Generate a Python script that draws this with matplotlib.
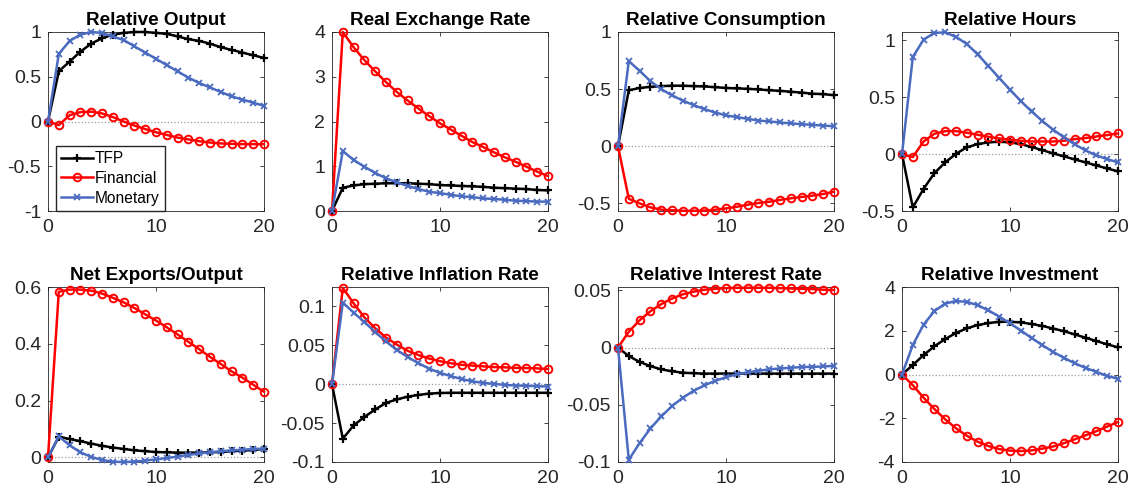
import matplotlib

matplotlib.use("Agg")
import matplotlib.pyplot as plt
import numpy as np

horizon = np.arange(21)

titles = ["Relative Output", "Real Exchange Rate", "Relative Consumption", "Relative Hours",
          "Net Exports/Output", "Relative Inflation Rate", "Relative Interest Rate", "Relative Investment"]

output_tfp = [0, 0.56, 0.67, 0.78, 0.87, 0.93, 0.97, 0.99, 1.0, 1.0, 0.99, 0.98, 0.95, 0.92, 0.90, 0.87, 0.83, 0.80, 0.77, 0.74, 0.71]
output_fin = [0, -0.04, 0.07, 0.105, 0.11, 0.09, 0.05, 0.0, -0.045, -0.085, -0.12, -0.15, -0.18, -0.20, -0.22, -0.235, -0.245, -0.25, -0.253, -0.253, -0.253]
output_mon = [0, 0.755, 0.90, 0.97, 1.0, 0.99, 0.95, 0.91, 0.84, 0.77, 0.70, 0.63, 0.56, 0.49, 0.43, 0.38, 0.33, 0.28, 0.245, 0.21, 0.175]

rer_tfp = [0, 0.52, 0.57, 0.60, 0.61, 0.62, 0.62, 0.62, 0.61, 0.60, 0.58, 0.57, 0.56, 0.55, 0.54, 0.52, 0.51, 0.50, 0.49, 0.47, 0.46]
rer_fin = [0, 4.0, 3.66, 3.37, 3.12, 2.88, 2.66, 2.47, 2.29, 2.12, 1.96, 1.82, 1.68, 1.54, 1.43, 1.31, 1.20, 1.10, 0.99, 0.88, 0.78]
rer_mon = [0, 1.34, 1.14, 0.99, 0.85, 0.73, 0.64, 0.56, 0.49, 0.43, 0.40, 0.36, 0.33, 0.31, 0.28, 0.27, 0.25, 0.23, 0.22, 0.21, 0.21]

cons_tfp = [0, 0.49, 0.51, 0.52, 0.526, 0.53, 0.53, 0.526, 0.523, 0.517, 0.51, 0.506, 0.503, 0.497, 0.49, 0.485, 0.477, 0.47, 0.46, 0.456, 0.447]
cons_fin = [0, -0.46, -0.50, -0.535, -0.555, -0.56, -0.565, -0.565, -0.563, -0.556, -0.544, -0.53, -0.512, -0.497, -0.486, -0.47, -0.456, -0.444, -0.433, -0.418, -0.398]
cons_mon = [0, 0.745, 0.66, 0.57, 0.50, 0.445, 0.40, 0.36, 0.325, 0.295, 0.27, 0.255, 0.24, 0.225, 0.217, 0.208, 0.20, 0.193, 0.187, 0.181, 0.175]

hours_tfp = [0, -0.469, -0.305, -0.167, -0.073, 0.003, 0.059, 0.088, 0.103, 0.109, 0.103, 0.088, 0.062, 0.035, 0.006, -0.02, -0.047, -0.073, -0.10, -0.126, -0.152]
hours_fin = [0, -0.026, 0.111, 0.179, 0.202, 0.202, 0.188, 0.17, 0.152, 0.138, 0.126, 0.117, 0.111, 0.111, 0.111, 0.117, 0.132, 0.141, 0.155, 0.167, 0.182]
hours_mon = [0, 0.853, 1.006, 1.065, 1.07, 1.03, 0.968, 0.877, 0.774, 0.669, 0.566, 0.466, 0.375, 0.29, 0.214, 0.147, 0.085, 0.032, -0.012, -0.044, -0.073]

nx_tfp = [0, 0.073, 0.065, 0.057, 0.049, 0.041, 0.035, 0.030, 0.025, 0.022, 0.019, 0.018, 0.017, 0.017, 0.017, 0.018, 0.019, 0.022, 0.024, 0.026, 0.030]
nx_fin = [0, 0.583, 0.591, 0.591, 0.587, 0.577, 0.562, 0.546, 0.526, 0.504, 0.482, 0.458, 0.433, 0.407, 0.381, 0.354, 0.329, 0.303, 0.281, 0.256, 0.231]
nx_mon = [0, 0.074, 0.043, 0.018, 0.002, -0.009, -0.015, -0.016, -0.015, -0.011, -0.007, -0.002, 0.003, 0.009, 0.014, 0.018, 0.022, 0.025, 0.027, 0.030, 0.031]

infl_tfp = [0, -0.070, -0.053, -0.042, -0.0325, -0.024, -0.0196, -0.016, -0.0138, -0.012, -0.0113, -0.011, -0.011, -0.011, -0.011, -0.011, -0.011, -0.011, -0.011, -0.011, -0.011]
infl_fin = [0, 0.124, 0.104, 0.086, 0.072, 0.060, 0.051, 0.043, 0.0375, 0.033, 0.0296, 0.027, 0.025, 0.024, 0.023, 0.022, 0.0217, 0.021, 0.0208, 0.0204, 0.0196]
infl_mon = [0, 0.105, 0.092, 0.080, 0.067, 0.055, 0.044, 0.035, 0.027, 0.020, 0.0146, 0.0104, 0.0067, 0.0037, 0.0017, 0.0004, -0.0008, -0.0017, -0.002, -0.0025, -0.003]

rate_tfp = [0, -0.0074, -0.0125, -0.0162, -0.019, -0.0207, -0.0219, -0.0224, -0.0227, -0.0227, -0.0227, -0.0227, -0.0227, -0.0227, -0.0227, -0.0227, -0.0227, -0.0227, -0.0227, -0.0227, -0.0227]
rate_fin = [0, 0.0139, 0.0239, 0.0318, 0.038, 0.0429, 0.0466, 0.0489, 0.0506, 0.0514, 0.052, 0.0523, 0.0523, 0.0523, 0.0523, 0.052, 0.0517, 0.0514, 0.0512, 0.0506, 0.0503]
rate_mon = [0, -0.098, -0.0835, -0.0707, -0.0602, -0.0511, -0.0438, -0.0378, -0.033, -0.029, -0.0259, -0.0233, -0.0216, -0.0202, -0.019, -0.0182, -0.0176, -0.017, -0.0168, -0.0165, -0.0159]

inv_tfp = [0, 0.43, 0.89, 1.29, 1.62, 1.90, 2.11, 2.26, 2.35, 2.41, 2.41, 2.38, 2.31, 2.22, 2.10, 1.98, 1.83, 1.68, 1.53, 1.38, 1.24]
inv_fin = [0, -0.49, -1.06, -1.58, -2.05, -2.46, -2.80, -3.07, -3.27, -3.41, -3.48, -3.50, -3.47, -3.39, -3.29, -3.14, -2.96, -2.78, -2.59, -2.38, -2.17]
inv_mon = [0, 1.35, 2.28, 2.90, 3.24, 3.36, 3.32, 3.17, 2.93, 2.65, 2.34, 2.01, 1.67, 1.34, 1.03, 0.76, 0.51, 0.30, 0.12, -0.07, -0.19]

panels = [
    (output_tfp, output_fin, output_mon, (-1, 1), [-1, -0.5, 0, 0.5, 1], ["-1", "-0.5", "0", "0.5", "1"]),
    (rer_tfp, rer_fin, rer_mon, (0, 4), [0, 1, 2, 3, 4], ["0", "1", "2", "3", "4"]),
    (cons_tfp, cons_fin, cons_mon, (-0.567, 1), [-0.5, 0, 0.5, 1], ["-0.5", "0", "0.5", "1"]),
    (hours_tfp, hours_fin, hours_mon, (-0.5, 1.073), [-0.5, 0, 0.5, 1], ["-0.5", "0", "0.5", "1"]),
    (nx_tfp, nx_fin, nx_mon, (-0.016, 0.6), [0, 0.2, 0.4, 0.6], ["0", "0.2", "0.4", "0.6"]),
    (infl_tfp, infl_fin, infl_mon, (-0.1, 0.125), [-0.1, -0.05, 0, 0.05, 0.1], ["-0.1", "-0.05", "0", "0.05", "0.1"]),
    (rate_tfp, rate_fin, rate_mon, (-0.1, 0.053), [-0.1, -0.05, 0, 0.05], ["-0.1", "-0.05", "0", "0.05"]),
    (inv_tfp, inv_fin, inv_mon, (-4, 4), [-4, -2, 0, 2, 4], ["-4", "-2", "0", "2", "4"]),
]

plt.rcParams["font.family"] = ["Liberation Sans", "DejaVu Sans"]
axis_gray = "#262626"
blue = "#4a6bbf"

fig = plt.figure(figsize=(11.31, 4.96), dpi=100)
lefts = [48, 332, 618, 902]
rows = [(32, 211), (287, 462)]
W, H = 1131, 496

for idx, (tfp, fin, mon, ylim, yticks, ylabels) in enumerate(panels):
    r, c = divmod(idx, 4)
    top, bot = rows[r]
    ax = fig.add_axes([lefts[c] / W, 1 - bot / H, 216 / W, (bot - top) / H])
    ax.axhline(0, color="#999999", linestyle=":", linewidth=0.9, zorder=1)
    ax.plot(horizon, tfp, color="black", marker="+", markersize=6, markeredgewidth=1.6, linewidth=1.8,
            label="TFP", zorder=3, clip_on=False)
    ax.plot(horizon, fin, color="red", marker="o", markersize=5.5, markerfacecolor="none", markeredgewidth=1.4,
            linewidth=1.8, label="Financial", zorder=3, clip_on=False)
    ax.plot(horizon, mon, color=blue, marker="x", markersize=4, markeredgewidth=1.3, linewidth=1.8,
            label="Monetary", zorder=3, clip_on=False)
    ax.set_xlim(0, 20)
    ax.set_ylim(*ylim)
    ax.set_xticks([0, 10, 20])
    ax.set_yticks(yticks)
    ax.set_yticklabels(ylabels)
    ax.tick_params(direction="in", top=True, right=True, length=3, width=0.6, labelsize=14,
                   colors=axis_gray)
    ax.tick_params(axis="x", pad=6)
    ax.tick_params(axis="y", pad=5)
    for s in ax.spines.values():
        s.set_color(axis_gray)
        s.set_linewidth(0.6)
    ax.set_title(titles[idx], fontsize=13.6, fontweight="bold", pad=5)
    if idx == 0:
        leg = ax.legend(loc="lower left", bbox_to_anchor=(0.037, 0.0), borderaxespad=0, fontsize=11.2,
                        frameon=True, fancybox=False, edgecolor=axis_gray, framealpha=1,
                        handlelength=2.0, handletextpad=0.15, labelspacing=0.3, borderpad=0.35)
        leg.set_zorder(5)

fig.savefig("out.png", dpi=100)
